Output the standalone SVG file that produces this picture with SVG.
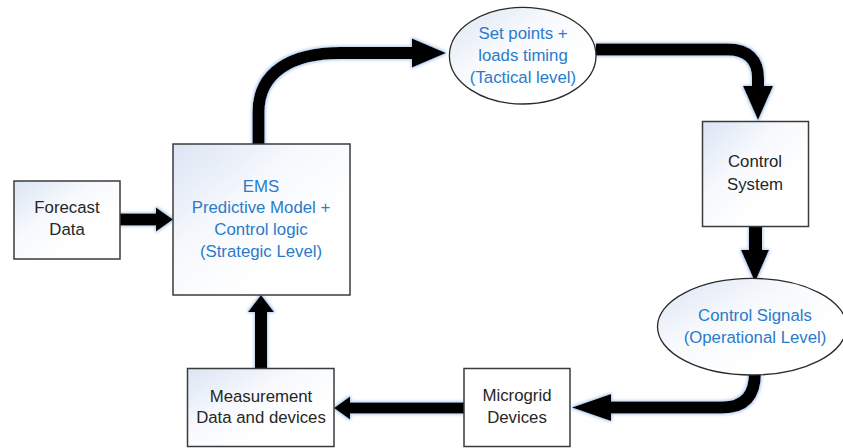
<svg xmlns="http://www.w3.org/2000/svg" width="843" height="448" viewBox="0 0 843 448">
  <defs>
    <linearGradient id="fillGrad" x1="0" y1="0" x2="0.7" y2="0.7">
      <stop offset="0" stop-color="#dbe5f4"/>
      <stop offset="0.55" stop-color="#f7f9fd"/>
      <stop offset="1" stop-color="#ffffff"/>
    </linearGradient>
    <filter id="glow" x="-20%" y="-20%" width="140%" height="140%">
      <feMorphology in="SourceAlpha" operator="dilate" radius="1" result="grown"/>
      <feGaussianBlur in="grown" stdDeviation="1.4" result="soft"/>
      <feFlood flood-color="#6f9fd6" flood-opacity="0.55"/>
      <feComposite in2="soft" operator="in" result="halo"/>
      <feMerge>
        <feMergeNode in="halo"/>
        <feMergeNode in="SourceGraphic"/>
      </feMerge>
    </filter>
  </defs>
  <style>
    .box { fill: url(#fillGrad); stroke: #3b3b3b; stroke-width: 1.5; }
    .plain { fill: #ffffff; stroke: #3b3b3b; stroke-width: 1.5; }
    .oval { fill: url(#fillGrad); stroke: #2a2a2a; stroke-width: 1.3; }
    .label { font-family: "Liberation Sans", Arial, sans-serif; font-size: 16.8px; text-anchor: middle; }
    .dark { fill: #262626; }
    .blue { fill: #2a7bc9; }
    .shaft { fill: none; stroke: #000000; stroke-width: 12; }
    .head { fill: #000000; }
  </style>

  <rect width="843" height="448" fill="#ffffff"/>

  <!-- connectors -->
  <g id="connectors" filter="url(#glow)">
    <!-- Forecast Data to EMS -->
    <rect x="120" y="213.5" width="37" height="12" class="head"/>
    <polygon class="head" points="156,207.5 173,219.5 156,231.5"/>

    <!-- EMS to set points -->
    <path class="shaft" d="M258.5,144 L258.5,112 C258.5,72 292,53 340,53 L414,53"/>
    <polygon class="head" points="412,38.5 446,53 412,67.5"/>

    <!-- set points to control system -->
    <path class="shaft" d="M596,49.5 L728,49.5 C748,49.5 758,60 758,78 L758,88"/>
    <polygon class="head" points="743,86 773,86 758,120"/>

    <!-- control system to control signals -->
    <rect x="749" y="227" width="13" height="25" class="head"/>
    <polygon class="head" points="741,250 769,250 755,282"/>

    <!-- control signals to microgrid devices -->
    <path class="shaft" d="M755,372 C755,394 746,407.5 722,407.5 L608,407.5"/>
    <polygon class="head" points="611,394 611,421 572,407.5"/>

    <!-- microgrid devices to measurement -->
    <rect x="348" y="402.5" width="116" height="11" class="head"/>
    <polygon class="head" points="350,396.5 334,408 350,419.5"/>

    <!-- measurement to EMS -->
    <rect x="255" y="310" width="12" height="58.5" class="head"/>
    <polygon class="head" points="248,312 274,312 261,295"/>
  </g>

  <!-- nodes -->
  <g id="forecast">
    <rect class="box" x="14" y="181" width="106" height="78"/>
    <text class="label dark" x="67" y="213">Forecast</text>
    <text class="label dark" x="67" y="235">Data</text>
  </g>

  <g id="ems">
    <rect class="box" x="173" y="144" width="177" height="151"/>
    <text class="label blue" x="261" y="191.5">EMS</text>
    <text class="label blue" x="261" y="213.3">Predictive Model +</text>
    <text class="label blue" x="261" y="235">Control logic</text>
    <text class="label blue" x="261" y="256.7">(Strategic Level)</text>
  </g>

  <g id="setpoints">
    <ellipse class="oval" cx="522.7" cy="55.7" rx="73.3" ry="48.3"/>
    <text class="label blue" x="523" y="39.3">Set points +</text>
    <text class="label blue" x="523" y="61">loads timing</text>
    <text class="label blue" x="523" y="82.7">(Tactical level)</text>
  </g>

  <g id="control-system">
    <rect class="box" x="702.5" y="121.5" width="106" height="105"/>
    <text class="label dark" x="755" y="167.3">Control</text>
    <text class="label dark" x="755" y="190">System</text>
  </g>

  <g id="control-signals">
    <ellipse class="oval" cx="752" cy="326.7" rx="94.5" ry="48.3"/>
    <text class="label blue" x="755" y="320.7">Control Signals</text>
    <text class="label blue" x="755" y="342.7">(Operational Level)</text>
  </g>

  <g id="microgrid">
    <rect class="plain" x="464" y="368.5" width="106" height="78"/>
    <text class="label dark" x="517" y="401">Microgrid</text>
    <text class="label dark" x="517" y="422.7">Devices</text>
  </g>

  <g id="measurement">
    <rect class="box" x="187.5" y="368.5" width="146.5" height="78"/>
    <text class="label dark" x="261" y="401.7">Measurement</text>
    <text class="label dark" x="261" y="423.3">Data and devices</text>
  </g>
</svg>
